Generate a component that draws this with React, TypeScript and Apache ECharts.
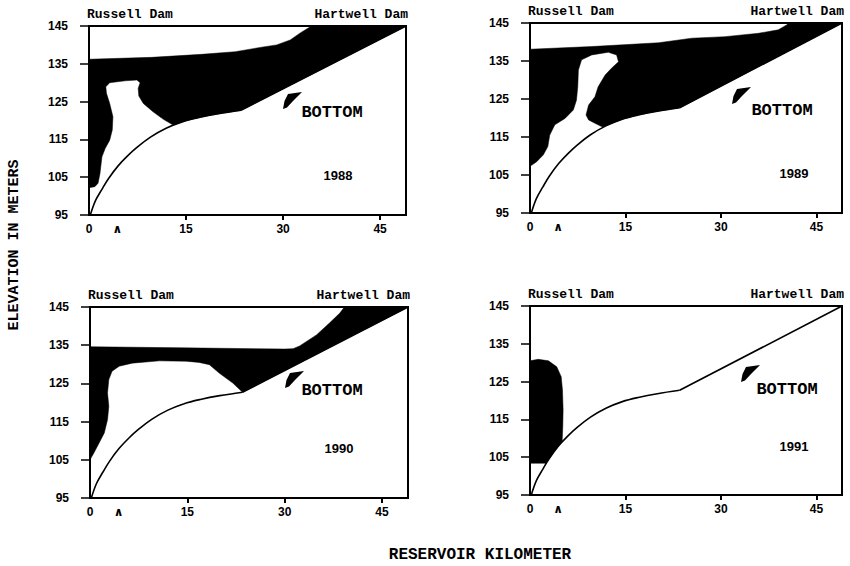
import React, { useEffect, useRef } from 'react';
import * as echarts from 'echarts';

// ---------- data ----------
const YEARS = ['1988', '1989', '1990', '1991'];
const X_TICKS = [0, 15, 30, 45];
const CARET_KM = 4.4;
const Y_TICKS = [95, 105, 115, 125, 135, 145];

// reservoir bottom profile (km, m)
const BOTTOM_CURVE_KM = [0.2, 1.0, 2.0, 3.0, 4.5, 6.0, 7.5, 9.5, 12.0, 14.5, 17.0, 20.0, 23.5];
const BOTTOM_CURVE_M = [95, 98.8, 101.8, 104.6, 108.0, 110.7, 113.0, 115.6, 118.0, 119.7, 120.8, 121.8, 122.7];
const BOTTOM_SLOPE_KM = [23.5, 49];
const BOTTOM_SLOPE_M = [122.7, 145];

// dark (shaded) zones, outline as [km, m]
const ZONE_1988 = [
  [0, 136.2], [9.7, 136.7], [17.4, 137.5], [22.6, 138.2], [26.7, 139.4], [29, 140], [31.1, 141.3],
  [32.6, 143.1], [34.2, 144.8], [34.6, 145], [49, 145], [23.5, 122.7], [20, 121.8], [17, 120.8],
  [14.5, 119.7], [13.0, 118.8], [11.5, 120.3], [9.9, 122.3], [8.4, 124.5], [7.7, 126.5], [7.6, 128.5],
  [7.9, 130.0], [7.4, 130.7], [5.6, 130.5], [3.2, 130.0], [2.6, 128.9], [2.7, 127.2], [3.2, 124.5],
  [3.7, 121.0], [3.6, 117.5], [3.2, 114.8], [2.5, 112.6], [2.0, 110.4], [1.7, 106.0], [1.4, 103.4],
  [0.9, 102.5], [0, 102.2],
];
const ZONE_1989 = [
  [0, 138.1], [9.7, 138.8], [20.2, 139.8], [25.4, 141.0], [30.6, 141.4], [35.9, 142.3], [39, 143.2],
  [40.3, 144.5], [40.6, 145], [49, 145], [23.5, 122.7], [20, 121.8], [17, 120.8], [14.5, 119.7],
  [12, 118.0], [11.4, 117.6], [10.2, 118.6], [9.2, 119.5], [8.8, 120.8], [9.2, 123.4], [10.2, 125.6],
  [10.7, 128.2], [11.8, 131.3], [12.8, 133.1], [13.9, 134.8], [13.6, 136.6], [12.3, 137.3], [9.7, 136.6],
  [8.1, 135.3], [7.6, 132.6], [7.5, 128.2], [7.3, 124.7], [6.8, 122.1], [5.5, 119.9], [3.9, 118.2],
  [3.1, 115.5], [2.8, 112.5], [2.1, 110.3], [1.05, 108.5], [0.3, 107.6], [0, 107.4],
];
const ZONE_1990 = [
  [0, 134.6], [14.5, 134.3], [30, 134.0], [31.3, 134.1], [32.3, 134.8], [34.9, 137.7], [36.9, 140.8],
  [38.5, 143.4], [39.2, 145], [49, 145], [23.5, 122.7], [22, 125.1], [19.9, 127.7], [18.4, 129.9],
  [16.8, 130.5], [14.8, 130.8], [10.7, 130.9], [6.5, 130.3], [4.5, 129.5], [3.4, 128.2], [2.9, 126],
  [2.7, 122.5], [2.9, 119], [2.7, 115.5], [2.2, 112], [1.4, 109.4], [0.6, 106.8], [0, 105],
];
const ZONE_1991 = [
  [0, 130.5], [1.3, 130.9], [2.9, 130.5], [4.2, 128.9], [4.9, 126.3], [5.1, 122.8], [5.2, 117.5],
  [5.15, 113.1], [5.05, 109.2], [4.5, 108.0], [3.0, 104.6], [2.5, 103.4], [0, 103.4],
];
const ZONES = [ZONE_1988, ZONE_1989, ZONE_1990, ZONE_1991];

// ---------- layout ----------
const GRIDS = [
  { left: 89, top: 26, width: 317, height: 189 },
  { left: 530, top: 23, width: 312, height: 190 },
  { left: 90, top: 307, width: 318, height: 191 },
  { left: 530, top: 306, width: 312, height: 189 },
];
const YEAR_POS = [[338, 175], [794, 173], [339, 448], [794, 446]];
const BOTTOM_LABEL_POS = [[332, 112], [782, 110], [332, 390], [787, 389]];
const ARROW_POS = [[283, 92], [732, 87], [285, 371], [741, 365]];
const ARROW_SHAPE = [[0, 17], [1.5, 9], [5, 2], [19, 0], [14, 5], [10, 9], [4, 15.5]];

const MONO = '"Liberation Mono", "DejaVu Sans Mono", monospace';
const SANS = '"Liberation Sans", Arial, sans-serif';
const INK = '#000';

function buildOption() {
  const grid = GRIDS.map((g) => ({
    ...g,
    show: true,
    borderColor: INK,
    borderWidth: 2,
    backgroundColor: 'transparent',
  }));

  const xAxis = GRIDS.map((_, i) => ({
    gridIndex: i,
    type: 'value',
    min: 0,
    max: 49,
    splitLine: { show: false },
    axisLine: { show: true, lineStyle: { color: INK, width: 2.2 } },
    axisTick: {
      show: true,
      customValues: X_TICKS.slice(1),
      length: 5,
      lineStyle: { color: INK, width: 2 },
    },
    axisLabel: {
      customValues: [...X_TICKS, CARET_KM],
      margin: 8,
      color: INK,
      fontFamily: SANS,
      fontWeight: 'bold',
      fontSize: 12,
      formatter: (v: number) => (v === CARET_KM ? '{c|\u2227}' : String(v)),
      rich: {
        c: { fontFamily: '"DejaVu Sans", sans-serif', fontWeight: 'bold', fontSize: 12, color: INK, padding: [0, 0, 5, 0] },
      },
    },
  }));

  const yAxis = GRIDS.map((_, i) => ({
    gridIndex: i,
    type: 'value',
    min: 95,
    max: 145,
    splitLine: { show: false },
    axisLine: { show: true, lineStyle: { color: INK, width: 2 } },
    axisTick: { show: true, customValues: Y_TICKS, length: 9, lineStyle: { color: INK, width: 1.5 } },
    axisLabel: {
      customValues: Y_TICKS,
      margin: 21,
      color: INK,
      fontFamily: SANS,
      fontWeight: 'bold',
      fontSize: 12,
    },
  }));

  const series: any[] = [];
  ZONES.forEach((zone, i) => {
    series.push({
      type: 'custom',
      xAxisIndex: i,
      yAxisIndex: i,
      data: zone,
      clip: true,
      silent: true,
      z: 2,
      renderItem: (params: any, api: any) => {
        if (params.dataIndex !== 0) return null;
        return {
          type: 'polygon',
          shape: { points: zone.map((p) => api.coord(p)) },
          style: { fill: INK, stroke: INK, lineWidth: 0.5 },
        };
      },
    });
    series.push({
      type: 'line',
      xAxisIndex: i,
      yAxisIndex: i,
      data: BOTTOM_CURVE_KM.map((x, j) => [x, BOTTOM_CURVE_M[j]]),
      smooth: 0.35,
      symbol: 'none',
      silent: true,
      z: 5,
      lineStyle: { color: INK, width: 1.6 },
    });
    series.push({
      type: 'line',
      xAxisIndex: i,
      yAxisIndex: i,
      data: BOTTOM_SLOPE_KM.map((x, j) => [x, BOTTOM_SLOPE_M[j]]),
      symbol: 'none',
      silent: true,
      z: 5,
      lineStyle: { color: INK, width: 1.6 },
    });
  });

  const graphic: any[] = [];
  GRIDS.forEach((g, i) => {
    graphic.push({
      type: 'text',
      x: g.left - 2,
      y: g.top - 12,
      style: {
        text: 'Russell Dam',
        fontFamily: MONO,
        fontWeight: 'bold',
        fontSize: 13,
        fill: INK,
        align: 'left',
        verticalAlign: 'middle',
      },
    });
    graphic.push({
      type: 'text',
      x: g.left + g.width + 2,
      y: g.top - 12,
      style: {
        text: 'Hartwell Dam',
        fontFamily: MONO,
        fontWeight: 'bold',
        fontSize: 13,
        fill: INK,
        align: 'right',
        verticalAlign: 'middle',
      },
    });
    graphic.push({
      type: 'text',
      x: YEAR_POS[i][0],
      y: YEAR_POS[i][1],
      style: {
        text: YEARS[i],
        fontFamily: SANS,
        fontWeight: 'bold',
        fontSize: 13,
        fill: INK,
        align: 'center',
        verticalAlign: 'middle',
      },
    });
    graphic.push({
      type: 'text',
      x: BOTTOM_LABEL_POS[i][0],
      y: BOTTOM_LABEL_POS[i][1],
      style: {
        text: 'BOTTOM',
        fontFamily: MONO,
        fontWeight: 'bold',
        fontSize: 17,
        fill: INK,
        align: 'center',
        verticalAlign: 'middle',
      },
    });
    graphic.push({
      type: 'polygon',
      shape: { points: ARROW_SHAPE.map(([dx, dy]) => [ARROW_POS[i][0] + dx, ARROW_POS[i][1] + dy]) },
      style: { fill: INK },
    });
  });
  graphic.push({
    type: 'text',
    x: 14,
    y: 245,
    rotation: Math.PI / 2,
    style: {
      text: 'ELEVATION IN METERS',
      fontFamily: MONO,
      fontWeight: 'bold',
      fontSize: 15,
      fill: INK,
      align: 'center',
      verticalAlign: 'middle',
    },
  });
  graphic.push({
    type: 'text',
    x: 480,
    y: 555,
    style: {
      text: 'RESERVOIR KILOMETER',
      fontFamily: MONO,
      fontWeight: 'bold',
      fontSize: 16,
      fill: INK,
      align: 'center',
      verticalAlign: 'middle',
    },
  });

  return {
    animation: false,
    backgroundColor: '#fff',
    grid,
    xAxis,
    yAxis,
    series,
    graphic,
  };
}

export default function App() {
  const ref = useRef<HTMLDivElement>(null);
  useEffect(() => {
    if (!ref.current) return;
    const chart = echarts.init(ref.current, null, { renderer: 'svg' });
    chart.setOption(buildOption() as any);
    return () => chart.dispose();
  }, []);
  return (
    <div
      ref={ref}
      style={{ position: 'fixed', left: 0, top: 0, width: 850, height: 566, background: '#fff' }}
    />
  );
}
